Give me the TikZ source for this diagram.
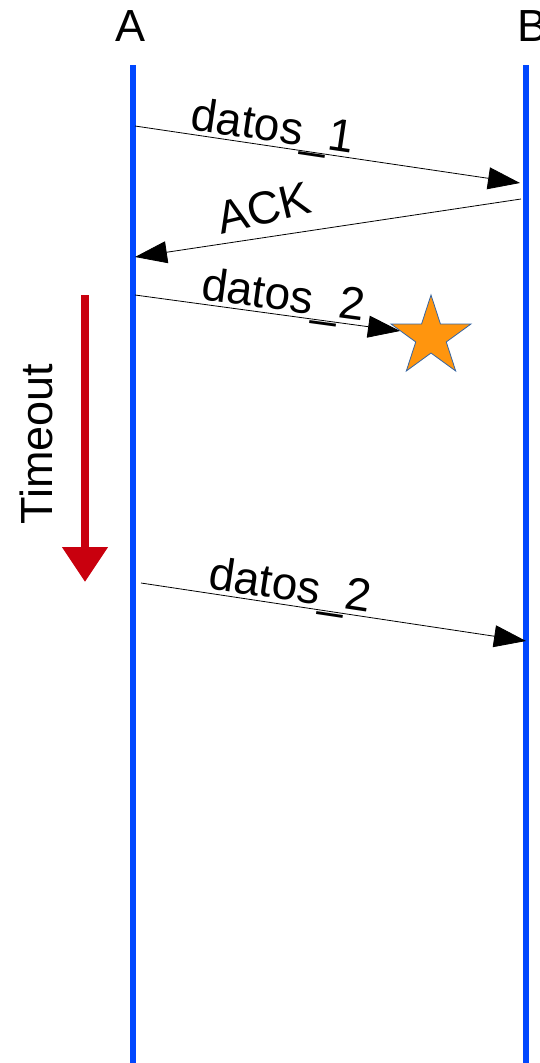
\documentclass[tikz,border=0pt]{standalone}
\usepackage{fontspec}
\setmainfont{Liberation Sans}
\usepackage{xcolor}
\usetikzlibrary{arrows.meta,shapes.geometric}
\definecolor{lifeblue}{HTML}{0047FF}
\definecolor{timered}{HTML}{C9000E}
\definecolor{lostorange}{HTML}{FF950E}
\definecolor{staredge}{HTML}{3465A4}
\tikzset{
    actor/.style={
        font=\fontsize{45}{54}\selectfont, inner sep=0pt
    },
    lifeline/.style={
        draw=lifeblue, line width=6pt
    },
    msg/.style={
        line width=0.8pt, -{Triangle[length=32pt,width=22pt]}
    },
    msglabel/.style={
        font=\fontsize{46}{55}\selectfont, inner sep=2pt,
        text depth=0.22em, sloped, above
    },
    timer/.style={
        draw=timered, line width=8pt,
        -{Triangle[length=35pt,width=44pt,fill=timered]}
    },
    lost/.style={
        star, star points=5, star point ratio=2.618,
        minimum size=84pt, inner sep=0pt,
        fill=lostorange, draw=staredge, line width=0.8pt
    }
}

\begin{document}
\begin{tikzpicture}[x=1pt,y=-1pt]
    \useasboundingbox (0,0) rectangle (539,1063);

    \node[actor] (A) at (131,26) {A};
    \node[actor] (B) at (533,26) {B};

    \coordinate (atop) at (133,65);
    \coordinate (abot) at (133,1063);
    \coordinate (btop) at (526,65);
    \coordinate (bbot) at (526,1063);
    \draw[lifeline] (atop) -- (abot);
    \draw[lifeline] (btop) -- (bbot);

    % first data and its ack
    \coordinate (a1) at (135,126);
    \coordinate (b1) at (520,183);
    \draw[msg] (a1) -- node[msglabel, pos=0.35] {datos\_1} (b1);

    \coordinate (b2) at (521,199);
    \coordinate (a2) at (135,257);
    \draw[msg] (b2) -- node[msglabel, pos=0.65, above=9pt, rotate=5] {ACK} (a2);

    % lost packet
    \node[lost] (loss) at (431,337) {};
    \coordinate (a3) at (135,295);
    \coordinate (l3) at (400,331);
    \draw[msg] (a3) -- node[msglabel, pos=0.55] {datos\_2} (l3);

    % timeout
    \coordinate (tstart) at (85,295);
    \coordinate (tend) at (85,582);
    \draw[timer] (tstart) -- (tend);
    \node[actor, rotate=90] (timeout) at (36,444) {Timeout};

    % retransmission
    \coordinate (a4) at (141,583);
    \coordinate (b4) at (526,641);
    \draw[msg] (a4) -- node[msglabel, pos=0.38] {datos\_2} (b4);
\end{tikzpicture}
\end{document}
